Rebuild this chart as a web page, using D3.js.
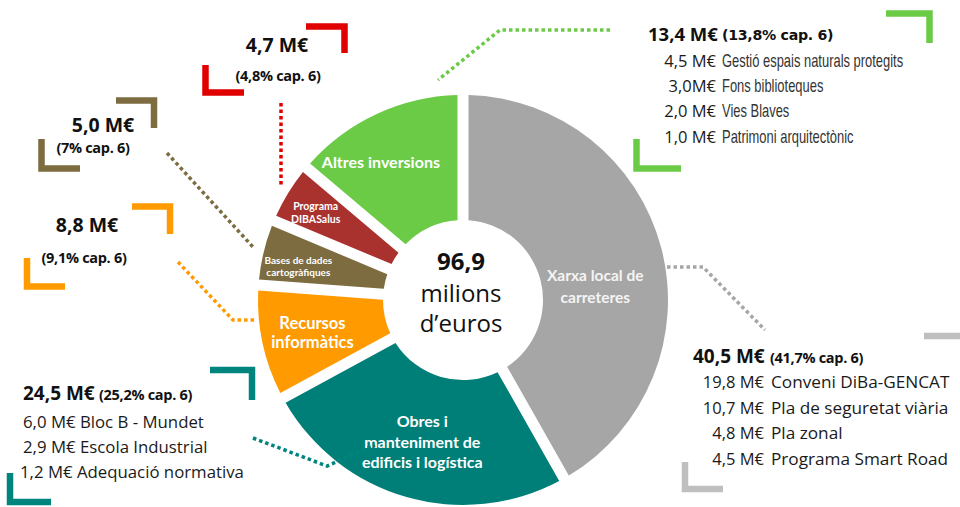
<!DOCTYPE html>
<html>
<head>
<meta charset="utf-8">
<script src="https://cdn.jsdelivr.net/npm/d3@7"></script>
<style>
  html, body { margin: 0; padding: 0; background: #fff; }
  svg { display: block; }
</style>
</head>
<body>
<svg id="chart" width="960" height="507"></svg>
<script>
// ---------------- DATA ----------------
const categories = [
  "Xarxa local de carreteres",
  "Obres i manteniment de edificis i logística",
  "Recursos informàtics",
  "Bases de dades cartogràfiques",
  "Programa DIBASalus",
  "Altres inversions"
];
const sliceLabelLines = [
  ["Xarxa local de", "carreteres"],
  ["Obres i", "manteniment de", "edificis i logística"],
  ["Recursos", "informàtics"],
  ["Bases de dades", "cartogràfiques"],
  ["Programa", "DIBASalus"],
  ["Altres inversions"]
];
const values = [40.5, 24.5, 8.8, 5.0, 4.7, 13.4];
const capShares = ["41,7%", "25,2%", "9,1%", "7%", "4,8%", "13,8%"];
const totalLabel = ["96,9", "milions", "d’euros"];

const roadAmounts = ["19,8 M€", "10,7 M€", "4,8 M€", "4,5 M€"];
const roadItems = ["Conveni DiBa-GENCAT", "Pla de seguretat viària", "Pla zonal", "Programa Smart Road"];
const buildingAmounts = ["6,0 M€", "2,9 M€", "1,2 M€"];
const buildingItems = ["Bloc B - Mundet", "Escola Industrial", "Adequació normativa"];
const otherAmounts = ["4,5 M€", "3,0M€", "2,0 M€", "1,0 M€"];
const otherItems = ["Gestió espais naturals protegits", "Fons biblioteques", "Vies Blaves", "Patrimoni arquitectònic"];

// ---------------- STYLE / LAYOUT ----------------
const sliceColors = ["#A6A6A6", "#007E78", "#FF9A00", "#7C6C40", "#A9322E", "#6BCB46"];
const bracketColors = ["#BFBFBF", "#00857E", "#FF9A00", "#7C6C40", "#E00000", "#6BCB46"];
const leaderColors = ["#A6A6A6", "#00857E", "#FF9A00", "#7C6C40", "#E00000", "#6BCB46"];
const labelFontSizes = [15.5, 16, 16.5, 10, 10.5, 16];
const labelLineHeights = [22, 20.5, 19, 12.5, 13, 16];
const labelRadius = [133, 148, 154, 168, 171, 160];
const labelAngleShift = [9, 0, 0, -2, -1, -6]; // degrees
const labelColors = ["#F4F4F4", "#FFFFFF", "#FFFFFF", "#FFFFFF", "#FFFFFF", "#FFFFFF"];

const cx = 463, cy = 300, rInner = 80, rOuter = 205;
const fmt = v => v.toFixed(1).replace(".", ",");

const svg = d3.select("#chart");

// ---------------- DONUT ----------------
const pie = d3.pie().sort(null).value(d => d)(values);
const arc = d3.arc().innerRadius(rInner).outerRadius(rOuter).padAngle(0.11).padRadius(100);

const g = svg.append("g").attr("transform", `translate(${cx},${cy})`);
g.selectAll("path.slice").data(pie).join("path")
  .attr("class", "slice")
  .attr("d", arc)
  .attr("fill", (d, i) => sliceColors[i]);

// slice labels
pie.forEach((d, i) => {
  const a = (d.startAngle + d.endAngle) / 2 + labelAngleShift[i] * Math.PI / 180;
  const x = Math.sin(a) * labelRadius[i];
  const y = -Math.cos(a) * labelRadius[i];
  const lines = sliceLabelLines[i];
  const lh = labelLineHeights[i];
  const t = g.append("text")
    .attr("text-anchor", "middle")
    .attr("font-family", "Lato, 'Open Sans', sans-serif")
    .attr("font-weight", 700)
    .attr("font-size", labelFontSizes[i])
    .attr("fill", labelColors[i]);
  lines.forEach((ln, k) => {
    t.append("tspan")
      .attr("x", x)
      .attr("y", y + (k - (lines.length - 1) / 2) * lh + labelFontSizes[i] * 0.35)
      .text(ln);
  });
});

// center text
const ct = g.append("text").attr("text-anchor", "middle")
  .attr("font-family", "'Open Sans', sans-serif").attr("fill", "#111");
ct.append("tspan").attr("x", -2).attr("y", -30).attr("font-size", 24).attr("font-weight", 700).text(totalLabel[0]);
ct.append("tspan").attr("x", -2).attr("y", 1.5).attr("font-size", 24).attr("font-weight", 400).text(totalLabel[1]);
ct.append("tspan").attr("x", -2).attr("y", 31.5).attr("font-size", 24).attr("font-weight", 400).text(totalLabel[2]);

// ---------------- BRACKETS ----------------
const brackets = [
  [0, "M924,336 H964 V372"], [0, "M685,462 V489 H723"],
  [1, "M210,370 H252 V400"], [1, "M10,473 V502 H51"],
  [2, "M132,206.5 H170 V234"], [2, "M27,258 V286.5 H65"],
  [3, "M116,100.5 H154 V128"], [3, "M41.5,139 V168.5 H80"],
  [4, "M306,26.5 H344.5 V53"], [4, "M205.5,65 V92.5 H244"],
  [5, "M886,13.5 H929.5 V43"], [5, "M636.5,139 V168.5 H681"]
];
svg.append("g").selectAll("path").data(brackets).join("path")
  .attr("d", d => d[1])
  .attr("fill", "none")
  .attr("stroke", d => bracketColors[d[0]])
  .attr("stroke-width", 6.5)
  .attr("stroke-linejoin", "miter");

// ---------------- LEADER LINES ----------------
const leaders = [
  [0, "M667,267 H703 L765,330"],
  [1, "M253,438 L327,466 L375,445"],
  [2, "M178,262 L233,320 H256"],
  [3, "M167,153 L253,247"],
  [4, "M281,103 V185"],
  [5, "M610,30 H500 L438,80"]
];
svg.append("g").selectAll("path").data(leaders).join("path")
  .attr("d", d => d[1])
  .attr("fill", "none")
  .attr("stroke", d => leaderColors[d[0]])
  .attr("stroke-width", 3.5)
  .attr("stroke-dasharray", "3.5,3");

// ---------------- ANNOTATION TEXT ----------------
const ann = svg.append("g").attr("font-family", "'Open Sans', sans-serif").attr("fill", "#111");
function title(x, y, anchor, i, size) {
  return ann.append("text").attr("x", x).attr("y", y).attr("text-anchor", anchor)
    .attr("font-size", size || 18.5).attr("font-weight", 700).text(fmt(values[i]) + " M€");
}
function share(x, y, anchor, i, family, size) {
  return ann.append("text").attr("x", x).attr("y", y).attr("text-anchor", anchor)
    .attr("font-family", family || "'Open Sans', sans-serif")
    .attr("font-size", size || 14.5).attr("font-weight", 700).attr("letter-spacing", -0.3)
    .text("(" + capShares[i] + " cap. 6)");
}

// red (Programa DIBASalus)
title(277, 52, "middle", 4, 19.5);
share(278, 81, "middle", 4);
// brown (Bases de dades)
title(103, 132, "middle", 3, 19.5);
share(93, 153, "middle", 3);
// orange (Recursos informàtics)
title(87, 232, "middle", 2, 19.5);
share(84, 263, "middle", 2);
// teal (Obres)
title(23, 400, "start", 1, 19);
share(99, 400, "start", 1);
buildingAmounts.forEach((a, k) => {
  ann.append("text").attr("x", k === 2 ? 20 : 23).attr("y", 428 + k * 25)
    .attr("font-size", 16.8).attr("fill", "#1a1a1a")
    .text(a + " " + buildingItems[k]);
});
// gray (Xarxa local)
title(693, 363, "start", 0, 19);
share(770, 363, "start", 0);
roadAmounts.forEach((a, k) => {
  const y = [388, 414, 439, 465][k];
  ann.append("text").attr("x", 764).attr("y", y).attr("text-anchor", "end")
    .attr("font-size", 16.5).attr("fill", "#1a1a1a").text(a);
  ann.append("text").attr("x", 771).attr("y", y)
    .attr("font-size", 17.2).attr("fill", "#1a1a1a").text(roadItems[k]);
});
// green (Altres inversions)
title(648, 41, "start", 5, 18.5);
share(722, 40, "start", 5, "'DejaVu Sans', sans-serif", 14.2);
otherAmounts.forEach((a, k) => {
  const y = [66.5, 92, 117, 143][k];
  ann.append("text").attr("x", 716).attr("y", y).attr("text-anchor", "end")
    .attr("font-size", 16.5).attr("fill", "#1a1a1a").text(a);
  ann.append("text")
    .attr("transform", `translate(722,${y}) scale(0.74,1)`)
    .attr("font-family", "'Liberation Sans', Arial, sans-serif")
    .attr("font-size", 17.5).attr("fill", "#333").text(otherItems[k]);
});
</script>
</body>
</html>
